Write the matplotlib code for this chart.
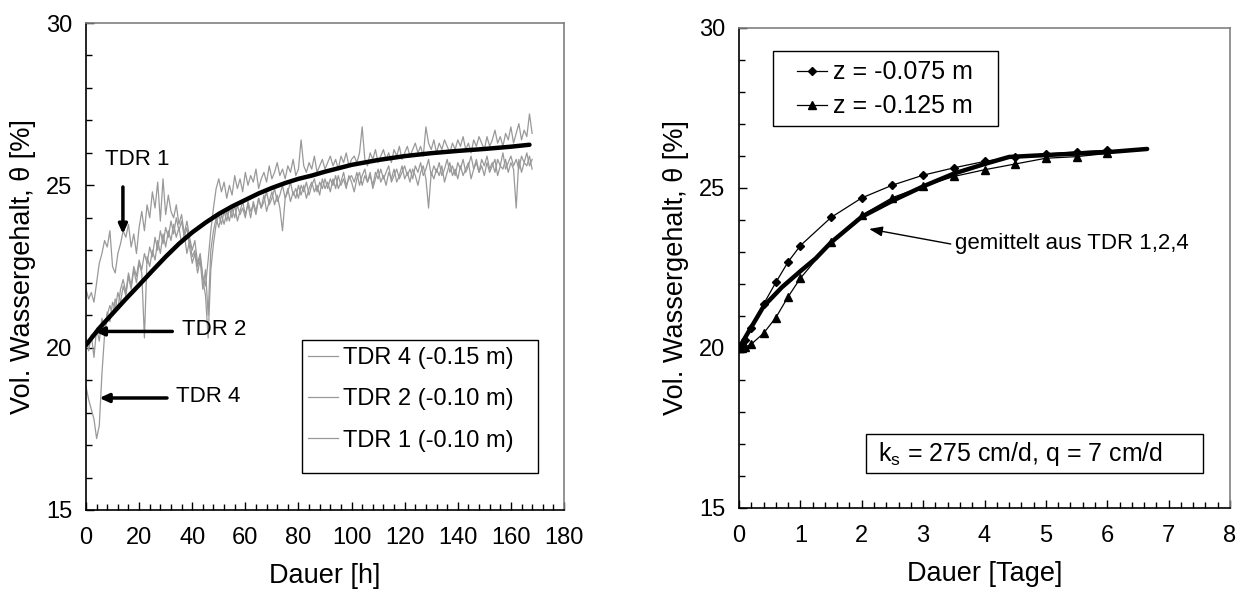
import numpy as np
import matplotlib
matplotlib.use("Agg")
import matplotlib.pyplot as plt
from matplotlib.ticker import MultipleLocator
from matplotlib.patches import Rectangle

plt.rcParams['font.family'] = ['Liberation Sans', 'DejaVu Sans']
plt.rcParams['mathtext.fontset'] = 'custom'
plt.rcParams['mathtext.rm'] = 'Liberation Sans'
plt.rcParams['mathtext.it'] = 'Liberation Sans'

# ---------------- left panel data (hourly readings) ----------------
hours = list(range(0, 169))
tdr1 = [21.8, 21.5, 21.7, 21.4, 22.0, 22.6, 22.9, 23.3, 23.1, 23.6, 22.5,
        22.3, 22.9, 23.2, 23.6, 23.4, 23.8, 23.1, 23.5, 22.9, 23.7,
        24.2, 23.6, 24.4, 24.0, 24.8, 24.3, 25.1, 23.9, 25.2, 24.1,
        24.7, 24.2, 24.0, 24.4, 23.8, 24.1, 23.5, 23.9, 23.4, 23.0,
        23.3, 22.6, 22.9, 22.2, 21.9, 22.7, 23.6, 24.3, 24.9, 25.2,
        24.8, 25.1, 24.6, 25.0, 24.7, 25.3, 24.9, 25.2, 24.8, 25.4,
        25.0, 25.3, 25.1, 25.5, 24.9, 25.2, 25.4, 25.1, 25.6, 25.2,
        25.4, 25.7, 25.3, 25.5, 25.2, 25.6, 25.4, 25.8, 25.3, 25.5,
        26.4, 25.6, 25.4, 25.7, 25.5, 25.9, 25.4, 25.6, 25.8, 25.5,
        25.7, 25.9, 25.6, 25.8, 25.5, 25.9, 25.7, 26.0, 25.6, 25.8,
        25.9, 25.7, 26.0, 26.8, 25.8, 25.6, 26.0, 25.8, 26.1, 25.7,
        25.9, 26.1, 25.8, 26.0, 25.7, 26.1, 25.9, 26.2, 25.8, 26.0,
        26.2, 25.9, 26.1, 26.3, 26.0, 26.2, 25.9, 26.8, 26.3, 26.1,
        26.4, 26.0, 26.3, 26.1, 26.4, 26.2, 26.0, 26.3, 26.1, 26.4,
        26.2, 26.5, 26.1, 26.3, 26.0, 26.4, 26.2, 26.5, 26.3, 26.1,
        26.5, 26.2, 26.4, 26.7, 26.3, 26.5, 26.2, 26.6, 26.4, 26.8,
        26.3, 26.6, 26.9, 26.4, 26.7, 26.5, 27.2, 26.6]
tdr2 = [20.3, 19.9, 20.4, 19.7, 20.6, 20.2, 20.9, 20.5, 21.1, 20.8, 21.4,
        21.2, 21.7, 21.4, 21.9, 21.6, 22.2, 21.8, 22.4, 22.0, 22.6,
        22.3, 20.3, 22.8, 22.5, 23.0, 22.7, 23.3, 22.9, 23.5, 23.1,
        23.6, 23.3, 23.8, 23.4, 23.7, 23.2, 23.5, 22.9, 23.3, 22.8,
        23.0, 22.5, 22.8, 22.1, 21.6, 20.3, 22.4, 23.2, 23.8, 24.1,
        23.8, 24.2, 23.9, 24.3, 24.0, 24.4, 23.9, 24.2, 24.5, 24.1,
        24.4, 24.0, 24.5, 24.2, 24.6, 24.3, 24.7, 24.2, 24.5, 24.8,
        24.4, 24.7, 24.3, 23.6, 24.6, 24.9, 24.5, 24.8, 24.6, 25.0,
        24.7, 25.0, 24.6, 24.9, 25.1, 24.8, 25.0, 24.7, 25.2, 24.9,
        25.1, 24.8, 25.2, 24.9, 25.3, 25.0, 25.2, 24.9, 25.3, 25.1,
        24.8, 25.2, 25.4, 25.0, 25.3, 25.1, 25.4, 24.9, 25.2, 25.5,
        25.1, 25.3, 25.0, 25.4, 25.2, 25.5, 25.1, 25.3, 25.6, 25.2,
        25.4, 25.1, 25.5, 25.3, 25.0, 25.4, 25.6, 25.2, 24.3, 25.4,
        25.2, 25.5, 25.3, 25.6, 25.1, 25.4, 25.7, 25.3, 25.5, 25.2,
        25.6, 25.3, 25.5, 25.7, 25.2, 25.5, 25.8, 25.4, 25.6, 25.3,
        25.7, 25.4, 25.6, 25.8, 25.3, 25.6, 25.5, 25.8, 25.4, 25.7,
        25.5, 24.3, 25.8, 25.4, 25.7, 25.6, 25.9, 25.5]
tdr4 = [18.8, 18.4, 18.1, 17.8, 17.2, 17.6, 19.2, 20.4, 21.0, 21.3, 21.0,
        21.5, 21.2, 21.8, 22.1, 21.7, 22.3, 21.9, 22.5, 22.2, 22.7,
        22.4, 22.9, 22.6, 23.1, 22.8, 23.4, 23.0, 23.6, 23.2, 23.7,
        23.4, 23.9, 23.5, 24.0, 23.6, 23.9, 23.4, 23.7, 23.1, 22.6,
        22.9, 22.3, 22.7, 21.8, 22.4, 21.0, 23.0, 23.6, 24.0, 23.7,
        24.1, 23.8, 24.2, 23.9, 24.3, 24.0, 24.4, 24.1, 24.3, 24.0,
        24.5, 24.2, 24.4, 24.1, 24.6, 24.3, 24.5, 24.8, 24.4, 24.6,
        24.9, 24.5, 24.7, 25.0, 24.6, 24.8, 25.1, 24.7, 24.9, 24.6,
        25.0, 24.8, 25.1, 24.7, 25.0, 25.2, 24.8, 25.1, 24.9, 25.2,
        24.9, 25.2, 25.0, 25.3, 24.9, 25.1, 25.4, 25.0, 25.2, 25.3,
        25.1, 25.4, 25.0, 25.3, 25.5, 25.1, 25.3, 25.0, 25.4, 25.2,
        25.5, 25.2, 25.4, 25.6, 25.1, 25.3, 25.5, 25.2, 25.4, 25.6,
        25.3, 25.5, 25.2, 25.6, 25.4, 25.7, 25.3, 25.5, 25.8, 25.3,
        25.6, 25.4, 25.7, 25.3, 25.5, 25.8, 25.4, 25.6, 25.3, 25.7,
        25.5, 25.8, 25.4, 25.6, 25.9, 25.5, 25.7, 25.4, 25.8, 25.6,
        25.9, 25.5, 25.7, 25.4, 25.8, 25.6, 26.0, 25.5, 25.7, 25.9,
        25.6, 25.8, 25.5, 25.9, 25.7, 26.0, 25.6, 25.8]
fit_h = [0, 5, 10, 15, 20, 25, 30, 35, 40, 45, 50, 55, 60, 65, 70, 75, 80,
         85, 90, 100, 110, 120, 130, 140, 150, 160, 167]
fit_theta = [20.08, 20.6, 21.05, 21.5, 21.93, 22.37, 22.8, 23.2, 23.55, 23.85,
             24.12, 24.35, 24.55, 24.75, 24.92, 25.07, 25.2, 25.3, 25.42,
             25.63, 25.78, 25.9, 25.99, 26.06, 26.12, 26.19, 26.25]

# ---------------- right panel data (days) ----------------
days_075 = [0, 0.02, 0.05, 0.1, 0.2, 0.4, 0.6, 0.8, 1.0, 1.5, 2.0, 2.5, 3.0,
            3.5, 4.0, 4.5, 5.0, 5.5, 6.0]
theta_075 = [20.0, 20.05, 20.1, 20.25, 20.63, 21.37, 22.05, 22.69, 23.2, 24.08,
             24.69, 25.09, 25.4, 25.63, 25.83, 25.97, 26.06, 26.13, 26.18]
days_125 = [0, 0.02, 0.05, 0.1, 0.2, 0.4, 0.6, 0.8, 1.0, 1.5, 2.0, 2.5, 3.0,
            3.5, 4.0, 4.5, 5.0, 5.5, 6.0]
theta_125 = [20.0, 20.0, 20.0, 20.03, 20.12, 20.46, 20.95, 21.6, 22.18, 23.32,
             24.15, 24.7, 25.05, 25.36, 25.57, 25.75, 25.93, 25.98, 26.08]
days_mean = [0, 0.2, 0.4, 0.7, 1.0, 1.25, 1.5, 2.0, 2.5, 3.0, 3.5, 4.0, 4.4,
             5.0, 6.0, 6.65]
theta_mean = [20.0, 20.65, 21.3, 21.9, 22.4, 22.8, 23.3, 24.1, 24.6, 25.05,
              25.45, 25.75, 25.97, 26.03, 26.12, 26.22]

TICK_FS = 17
LABEL_FS = 19.5
GRAY = '#999999'
SPINE_GRAY = '#808080'

fig = plt.figure(figsize=(12.46, 5.99), dpi=100)
axL = fig.add_axes([86/1246, 1-510/599, 478/1246, 487/599])
axR = fig.add_axes([739/1246, 1-508/599, 491/1246, 480/599])

def style(ax):
    for s in ['top', 'right']:
        ax.spines[s].set_color(SPINE_GRAY)
        ax.spines[s].set_linewidth(1.2)
    for s in ['left', 'bottom']:
        ax.spines[s].set_color('black')
        ax.spines[s].set_linewidth(1.2)
    ax.tick_params(which='both', direction='in', top=False, right=False,
                   labelsize=TICK_FS)
    ax.tick_params(axis='x', which='both', pad=12)
    ax.tick_params(axis='y', which='both', pad=10)
    ax.tick_params(which='major', length=6, width=1)
    ax.tick_params(which='minor', length=4, width=1)

def box(ax, x0, y0, x1, y1):
    ax.add_patch(Rectangle((x0, y0), x1 - x0, y1 - y0, transform=ax.transAxes,
                           fc='white', ec='black', lw=1, zorder=4))

# ---------- left ----------
l4, = axL.plot(hours, tdr4, color=GRAY, lw=0.9)
l2, = axL.plot(hours, tdr2, color=GRAY, lw=0.9)
l1, = axL.plot(hours, tdr1, color=GRAY, lw=0.9)
axL.plot(fit_h, fit_theta, color='black', lw=3.2, solid_capstyle='round')
axL.set_xlim(0, 180)
axL.set_ylim(15, 30)
axL.xaxis.set_major_locator(MultipleLocator(20))
axL.xaxis.set_minor_locator(MultipleLocator(4))
axL.yaxis.set_major_locator(MultipleLocator(5))
axL.yaxis.set_minor_locator(MultipleLocator(1))
style(axL)
axL.set_xlabel('Dauer [h]', fontsize=LABEL_FS, labelpad=10)
axL.set_ylabel('Vol. Wassergehalt, θ [%]', fontsize=LABEL_FS, labelpad=7)
box(axL, 0.4519, 0.076, 0.9456, 0.349)
leg = axL.legend([l4, l2, l1], ['TDR 4 (-0.15 m)', 'TDR 2 (-0.10 m)', 'TDR 1 (-0.10 m)'],
                 loc='upper left', bbox_to_anchor=(0.464, 0.335), fontsize=17,
                 frameon=False, handlelength=1.27, handletextpad=0.2,
                 labelspacing=0.82, borderpad=0, borderaxespad=0)
leg.set_zorder(5)

arrow = dict(arrowstyle='-|>,head_length=0.55,head_width=0.25', lw=2.5,
             color='black', shrinkA=0, shrinkB=0)
axL.annotate('', xy=(13.9, 23.5), xytext=(13.9, 24.95), arrowprops=arrow)
axL.text(19.2, 25.8, 'TDR 1', fontsize=16, ha='center', va='center')
axL.annotate('', xy=(3.2, 20.5), xytext=(32.5, 20.5), arrowprops=arrow)
axL.text(36.0, 20.55, 'TDR 2', fontsize=16, ha='left', va='center')
axL.annotate('', xy=(5.0, 18.45), xytext=(30.5, 18.45), arrowprops=arrow)
axL.text(34.0, 18.5, 'TDR 4', fontsize=16, ha='left', va='center')

# ---------- right ----------
r1, = axR.plot(days_075, theta_075, color='black', lw=0.9, marker='D', ms=4.5)
r2, = axR.plot(days_125, theta_125, color='black', lw=0.9, marker='^', ms=6)
axR.plot(days_mean, theta_mean, color='black', lw=3.2, solid_capstyle='round')
axR.set_xlim(0, 8)
axR.set_ylim(15, 30)
axR.xaxis.set_major_locator(MultipleLocator(1))
axR.xaxis.set_minor_locator(MultipleLocator(0.2))
axR.yaxis.set_major_locator(MultipleLocator(5))
axR.yaxis.set_minor_locator(MultipleLocator(1))
style(axR)
axR.set_xlabel('Dauer [Tage]', fontsize=LABEL_FS, labelpad=10)
axR.set_ylabel('Vol. Wassergehalt, θ [%]', fontsize=LABEL_FS, labelpad=7)
box(axR, 0.0692, 0.7958, 0.5275, 0.952)
legR = axR.legend([r1, r2], ['z = -0.075 m', 'z = -0.125 m'],
                  loc='upper left', bbox_to_anchor=(0.118, 0.9323), fontsize=18,
                  frameon=False, handlelength=1.2, handletextpad=0.25,
                  labelspacing=0.4, borderpad=0, borderaxespad=0)
legR.set_zorder(5)

axR.annotate('', xy=(2.12, 23.72), xytext=(3.45, 23.25),
             arrowprops=dict(arrowstyle='-|>,head_length=0.8,head_width=0.3',
                             lw=1, color='black', shrinkA=0, shrinkB=0))
axR.text(3.52, 23.25, 'gemittelt aus TDR 1,2,4', fontsize=16, ha='left', va='center')
box(axR, 0.2587, 0.0729, 0.945, 0.154)
axR.text(0.283, 0.1135, r'$\mathregular{k_s}$ = 275 cm/d, q = 7 cm/d',
         transform=axR.transAxes, fontsize=18, ha='left', va='center', zorder=5)

fig.savefig('out.png', dpi=100)
